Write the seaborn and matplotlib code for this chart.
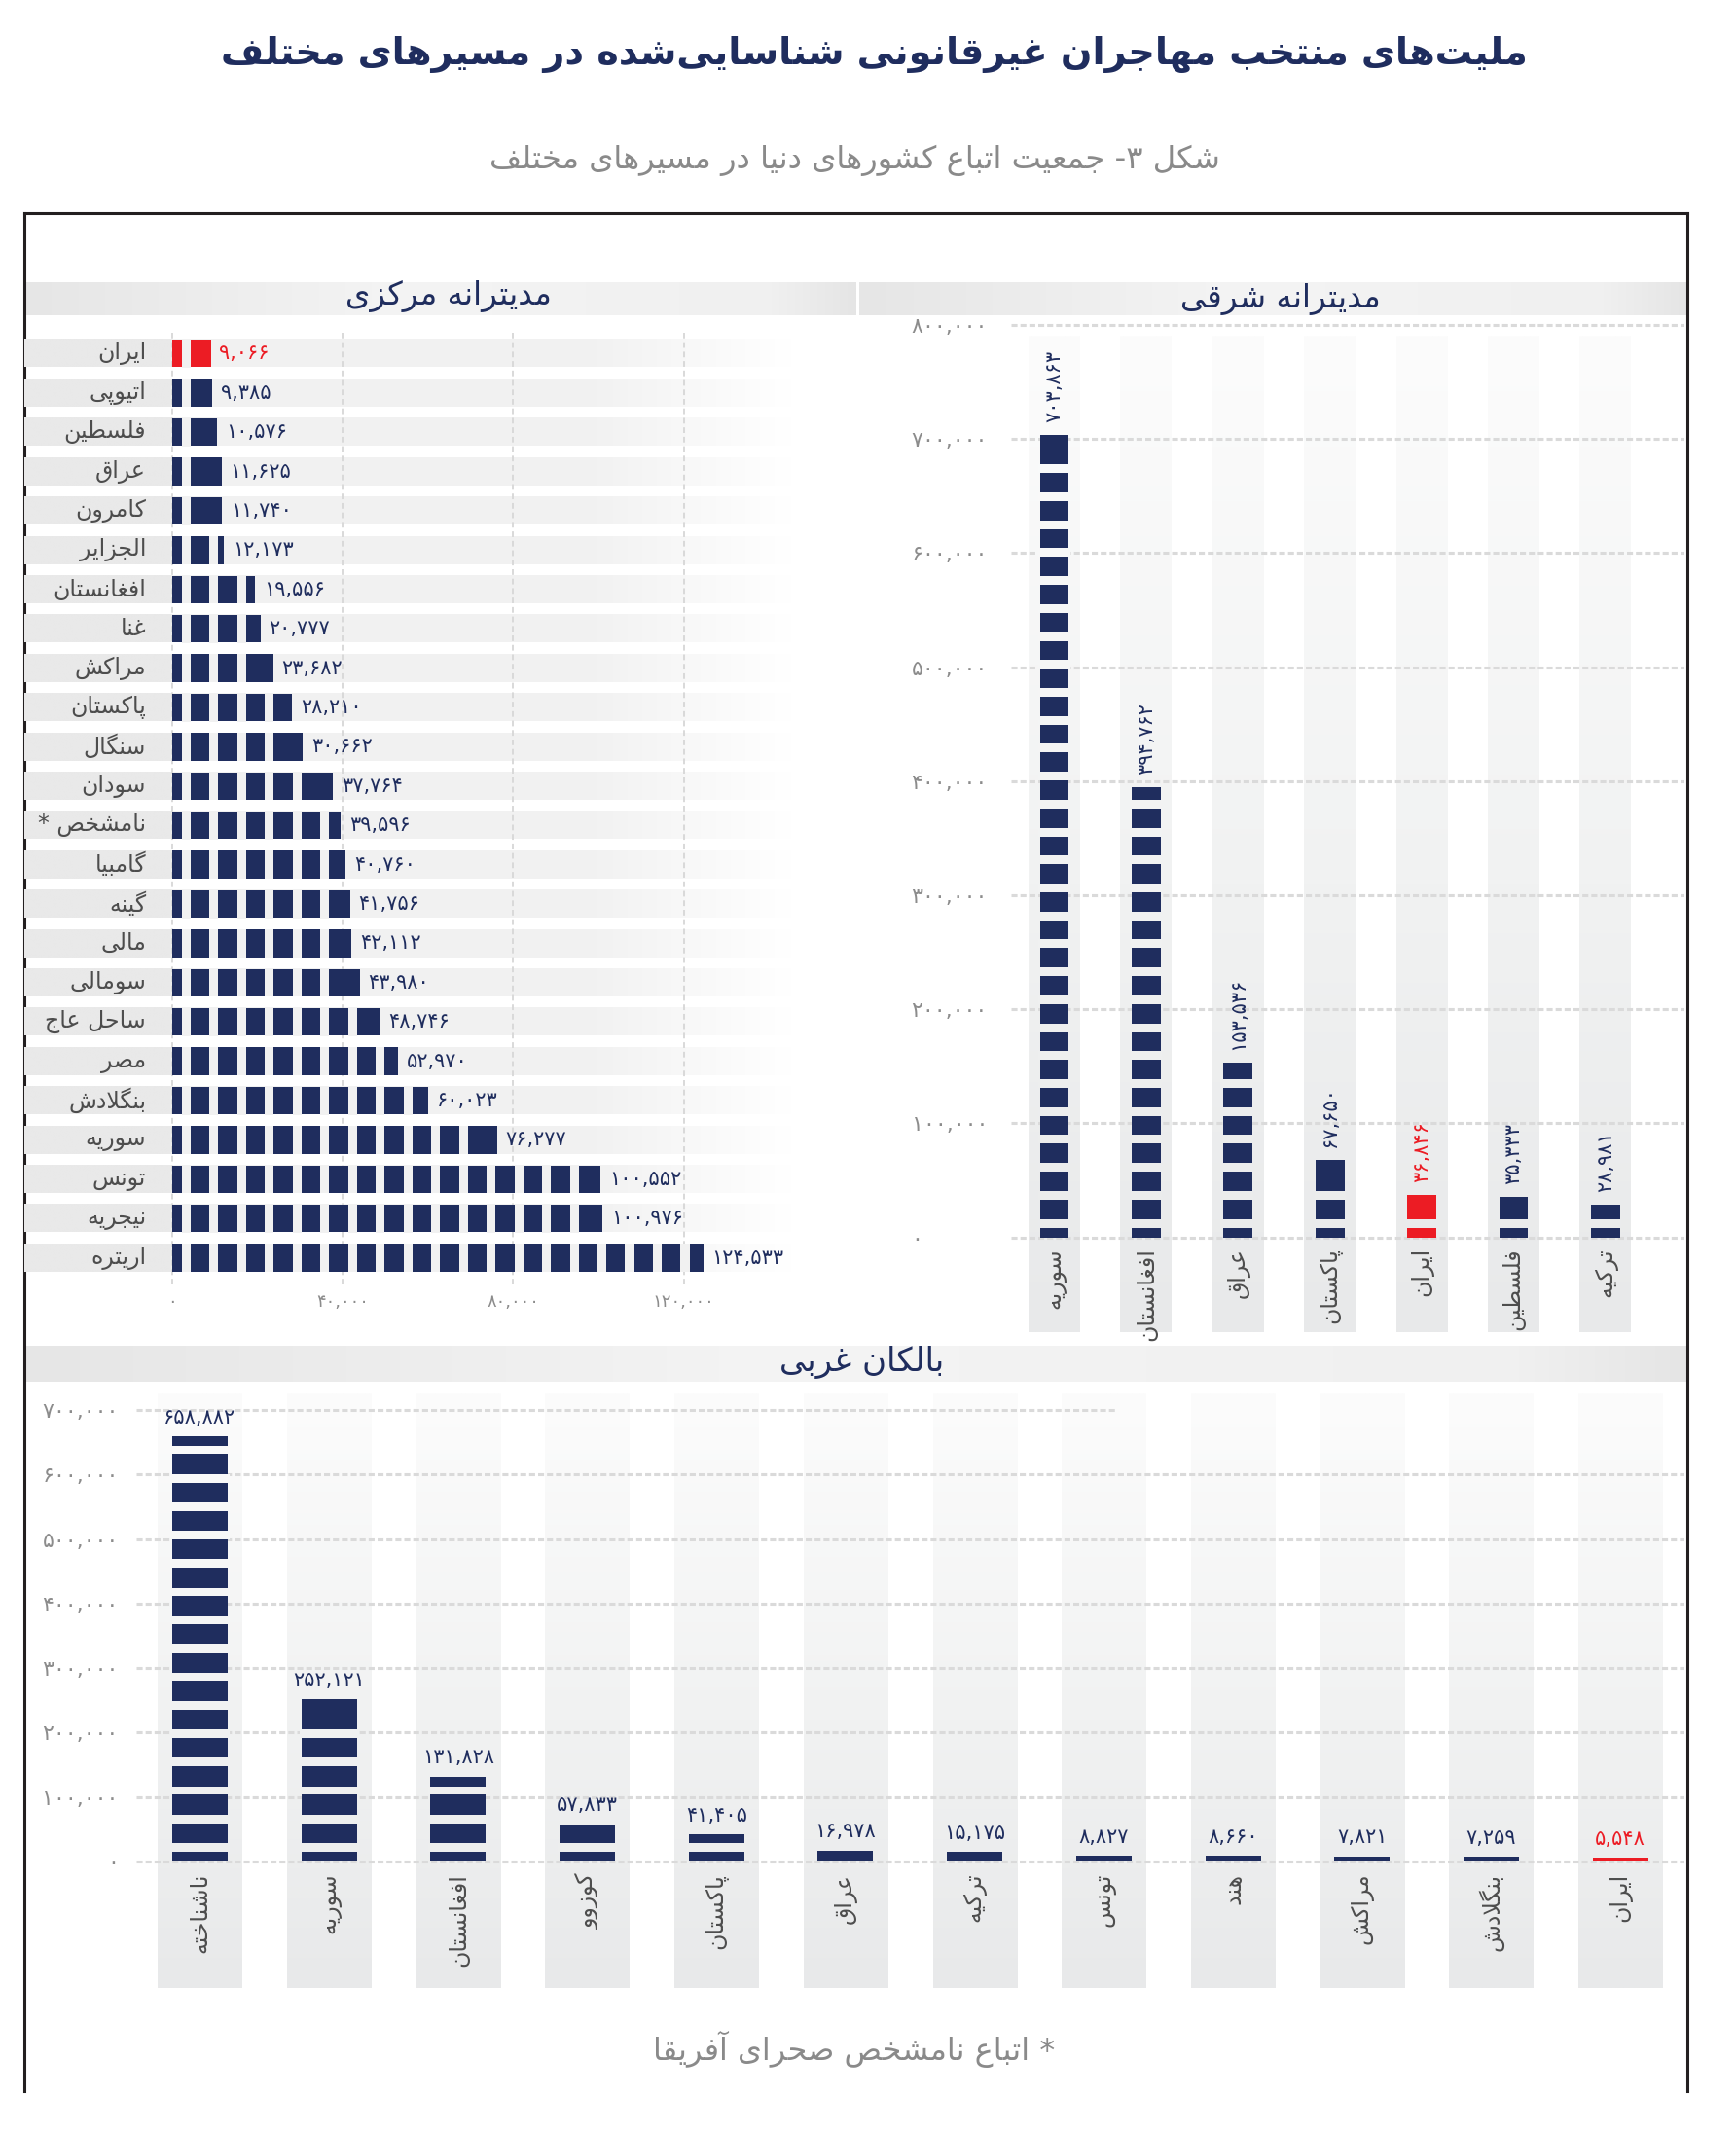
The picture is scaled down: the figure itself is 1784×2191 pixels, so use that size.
import re
import numpy as np
import pandas as pd
import matplotlib.pyplot as plt
from matplotlib.colors import to_rgb
import seaborn as sns

# ---- data ----
cm_countries = ['ایران', 'اتیوپی', 'فلسطین', 'عراق', 'کامرون', 'الجزایر', 'افغانستان', 'غنا',
                'مراکش', 'پاکستان', 'سنگال', 'سودان', 'نامشخص *', 'گامبیا', 'گینه', 'مالی',
                'سومالی', 'ساحل عاج', 'مصر', 'بنگلادش', 'سوریه', 'تونس', 'نیجریه', 'اریتره']
cm_values = [9066, 9385, 10576, 11625, 11740, 12173, 19556, 20777,
             23682, 28210, 30662, 37764, 39596, 40760, 41756, 42112,
             43980, 48746, 52970, 60023, 76277, 100552, 100976, 124533]

em_countries = ['سوریه', 'افغانستان', 'عراق', 'پاکستان', 'ایران', 'فلسطین', 'ترکیه']
em_values = [703863, 394762, 153536, 67650, 36846, 35333, 28981]

wb_countries = ['ناشناخته', 'سوریه', 'افغانستان', 'کوزوو', 'پاکستان', 'عراق',
                'ترکیه', 'تونس', 'هند', 'مراکش', 'بنگلادش', 'ایران']
wb_values = [658882, 252121, 131828, 57833, 41405, 16978, 15175, 8827, 8660, 7821, 7259, 5548]

cm_ticks = [0, 40000, 80000, 120000]
em_ticks = list(range(0, 800001, 100000))
wb_ticks = list(range(0, 700001, 100000))

title = 'ملیت\u200cهای منتخب مهاجران غیرقانونی شناسایی\u200cشده در مسیرهای مختلف'
subtitle = 'شکل ۳- جمعیت اتباع کشورهای دنیا در مسیرهای مختلف'
footnote = '* اتباع نامشخص صحرای آفریقا'
highlight = 'ایران'

NAVY = '#1f2d5e'
RED = '#ec1c24'
LABEL = '#4d4d4d'
TICK = '#8c8c8c'
GRID = '#d9d9d9'

# ---- minimal persian shaping (no reshaper lib available) ----
FORMS = {
    'آ': (0xFE81, 2), 'ا': (0xFE8D, 2), 'ب': (0xFE8F, 4), 'ت': (0xFE95, 4), 'ث': (0xFE99, 4),
    'ج': (0xFE9D, 4), 'ح': (0xFEA1, 4), 'خ': (0xFEA5, 4), 'د': (0xFEA9, 2), 'ذ': (0xFEAB, 2),
    'ر': (0xFEAD, 2), 'ز': (0xFEAF, 2), 'س': (0xFEB1, 4), 'ش': (0xFEB5, 4), 'ص': (0xFEB9, 4),
    'ض': (0xFEBD, 4), 'ط': (0xFEC1, 4), 'ظ': (0xFEC5, 4), 'ع': (0xFEC9, 4), 'غ': (0xFECD, 4),
    'ف': (0xFED1, 4), 'ق': (0xFED5, 4), 'ل': (0xFEDD, 4), 'م': (0xFEE1, 4), 'ن': (0xFEE5, 4),
    'ه': (0xFEE9, 4), 'و': (0xFEED, 2), 'پ': (0xFB56, 4), 'چ': (0xFB7A, 4), 'ژ': (0xFB8A, 2),
    'ک': (0xFB8E, 4), 'گ': (0xFB92, 4), 'ی': (0xFBFC, 4),
}
LAM_ALEF = {'ا': (0xFEFB, 0xFEFC), 'آ': (0xFEF5, 0xFEF6)}


def fa(text):
    out = []
    i, n = 0, len(text)
    while i < n:
        c = text[i]
        if c not in FORMS:
            if c != '\u200c':
                out.append(c)
            i += 1
            continue
        prev = text[i - 1] if i else ''
        nxt = text[i + 1] if i + 1 < n else ''
        link_prev = prev in FORMS and FORMS[prev][1] == 4
        if c == 'ل' and nxt in LAM_ALEF:
            out.append(chr(LAM_ALEF[nxt][1 if link_prev else 0]))
            i += 2
            continue
        base, cnt = FORMS[c]
        link_next = cnt == 4 and nxt in FORMS
        if link_prev and link_next:
            form = 3
        elif link_prev:
            form = 1
        elif link_next:
            form = 2
        else:
            form = 0
        out.append(chr(base + form))
        i += 1
    tokens = re.findall(r'[0-9۰-۹]+(?:[,.][0-9۰-۹]+)*|.', ''.join(out))
    return ''.join(reversed(tokens))


DIG = str.maketrans('0123456789', '۰۱۲۳۴۵۶۷۸۹')


def num(v):
    return f'{v:,}'.translate(DIG)


def ramp(stops, n=400):
    t = np.linspace(0, 1, n)
    pos = [p for p, _ in stops]
    cols = np.array([to_rgb(c) for _, c in stops])
    return np.stack([np.interp(t, pos, cols[:, k]) for k in range(3)], axis=-1)


def gap_starts(value, period, first=0.35, width=0.31):
    # cuts that split a bar into blocks; skip a cut that would leave a sliver on top
    starts = []
    s = first * period
    while s + width * period + 0.2 * period < value:
        starts.append(s)
        s += period
    return starts


sns.set_theme(style='white')
plt.rcParams['font.family'] = ['DejaVu Sans']

fig = plt.figure(figsize=(17.84, 21.91), dpi=100)
SW, SH = 1277, 1568


def box(x0, y0, x1, y1):
    return [x0 / SW, 1 - y1 / SH, (x1 - x0) / SW, (y1 - y0) / SH]


# background layer: title, frame, section headers
bg = fig.add_axes([0, 0, 1, 1])
bg.set_xlim(0, SW)
bg.set_ylim(SH, 0)
bg.axis('off')

head_ramp = ramp([(0, '#e6e6e6'), (0.45, '#f4f4f4'), (0.9, '#f0f0f0'), (1, '#e5e5e5')])[None, :, :]
for x0, x1, y0, y1 in [(18, 630, 208, 232), (632, 1241, 208, 232), (18, 1241, 990, 1016)]:
    bg.imshow(head_ramp, extent=[x0, x1, y1, y0], aspect='auto', interpolation='bilinear')
bg.set_xlim(0, SW)
bg.set_ylim(SH, 0)

for xs, ys in [([18, 18], [1538, 157]), ([18, 1241], [157, 157]), ([1241, 1241], [157, 1538])]:
    bg.plot(xs, ys, color='#231f20', lw=2.2, solid_capstyle='projecting')

texts = [
    (bg.text(643, 40, fa(title), ha='center', va='center', fontsize=30, fontweight='bold', color=NAVY), 1340),
    (bg.text(629, 118, fa(subtitle), ha='center', va='center', fontsize=20, color='#8a8a8a'), 750),
    (bg.text(330, 218, fa('مدیترانه مرکزی'), ha='center', va='center', fontsize=20, color=NAVY), 212),
    (bg.text(942, 220, fa('مدیترانه شرقی'), ha='center', va='center', fontsize=20, color=NAVY), 205),
    (bg.text(634, 1002, fa('بالکان غربی'), ha='center', va='center', fontsize=20, color=NAVY), 169),
    (bg.text(628, 1507, fa(footnote), ha='center', va='center', fontsize=18, color='#8a8a8a'), 412),
]
renderer = fig.canvas.get_renderer()
for t, target in texts:
    w = t.get_window_extent(renderer).width
    t.set_fontsize(t.get_fontsize() * target / w)

# ---- central mediterranean: horizontal bars ----
ax1 = fig.add_axes(box(18, 245, 630, 945), facecolor='none')
x_lo, x_hi = -34600, 160500
n1 = len(cm_countries)


def tx(v):
    return (v - x_lo) / (x_hi - x_lo)


row_band = ramp([(0, '#e9e9e9'), (tx(0) - 0.002, '#e9e9e9'), (tx(0), '#f1f1f1'),
                 (tx(100000), '#f2f2f2'), (tx(145000), '#ffffff'), (1, '#ffffff')])[None, :, :]
for i in range(n1):
    ax1.imshow(row_band, extent=[x_lo, x_hi, i + 0.35, i - 0.35], aspect='auto', zorder=0,
               interpolation='bilinear')

df1 = pd.DataFrame({'country': cm_countries, 'value': cm_values})
pal1 = {c: (RED if c == highlight else NAVY) for c in cm_countries}
sns.barplot(data=df1, x='value', y='country', hue='country', palette=pal1, orient='h',
            width=0.7, saturation=1, linewidth=0, errorbar=None, legend=False, ax=ax1)

for i, (c, v) in enumerate(zip(cm_countries, cm_values)):
    for s in gap_starts(v, 6500, width=0.32):
        ax1.barh(i, 0.32 * 6500, left=s, height=0.72, color='#f1f1f1', linewidth=0, zorder=3)
    ax1.text(v + 2000, i, num(v), ha='left', va='center', fontsize=15,
             color=RED if c == highlight else NAVY)
    ax1.text(-6100, i, fa(c), ha='right', va='center', fontsize=17, color=LABEL)

ax1.set_xlim(x_lo, x_hi)
ax1.set_ylim(23.69, -0.52)
ax1.set_xticks(cm_ticks)
ax1.set_xticklabels([num(v) for v in cm_ticks])
ax1.set_yticks([])
ax1.tick_params(axis='x', length=0, pad=6, labelsize=13, labelcolor=TICK)
ax1.grid(axis='x', color=GRID, linestyle=(0, (3, 2)), linewidth=1.4)
ax1.set_axisbelow(True)
ax1.set_xlabel('')
ax1.set_ylabel('')
sns.despine(ax=ax1, left=True, bottom=True)

# ---- eastern mediterranean: vertical bars ----
ax2 = fig.add_axes(box(744, 236, 1239, 980), facecolor='none')
u2 = 800000 / (910 - 239)
y_lo2, y_hi2 = -(980 - 910) * u2, 800000 + 3 * u2
col_top2 = 790000
col_stops = [(0, '#fcfcfc'), (0.55, '#f1f2f2'), (1, '#e8e9ea')]
col_ramp = ramp(col_stops)[:, None, :]


def col_color(y, top, bottom):
    t = np.clip((top - y) / (top - bottom), 0, 1)
    return col_ramp[int(t * (len(col_ramp) - 1)), 0]


n2 = len(em_countries)
for i in range(n2):
    ax2.imshow(col_ramp, extent=[i - 0.28, i + 0.28, y_lo2, col_top2], aspect='auto', zorder=0,
               interpolation='bilinear')

df2 = pd.DataFrame({'country': em_countries, 'value': em_values})
pal2 = {c: (RED if c == highlight else NAVY) for c in em_countries}
sns.barplot(data=df2, x='country', y='value', hue='country', palette=pal2,
            width=0.316, saturation=1, linewidth=0, errorbar=None, legend=False, ax=ax2)

for i, (c, v) in enumerate(zip(em_countries, em_values)):
    for s in gap_starts(v, 24500):
        ax2.bar(i, 0.31 * 24500, bottom=s, width=0.34, linewidth=0, zorder=3,
                color=col_color(s, col_top2, y_lo2))
    ax2.text(i, v + 11000, num(v), rotation=90, ha='center', va='bottom', fontsize=15,
             color=RED if c == highlight else NAVY)
    ax2.text(i, -9000, fa(c), rotation=90, ha='center', va='top', fontsize=17, color=LABEL)

ax2.set_xlim(-0.467, 6.858)
ax2.set_ylim(y_lo2, y_hi2)
ax2.set_yticks(em_ticks)
ax2.set_yticklabels([num(v) for v in em_ticks])
ax2.tick_params(axis='y', length=0, pad=74, labelsize=16, labelcolor=TICK)
for lab in ax2.get_yticklabels():
    lab.set_ha('left')
ax2.tick_params(axis='x', length=0, labelbottom=False)
ax2.grid(axis='y', color='#dadada', linestyle=(0, (2, 1)), linewidth=2.2)
ax2.set_axisbelow(True)
ax2.set_xlabel('')
ax2.set_ylabel('')
sns.despine(ax=ax2, left=True, bottom=True)

# ---- western balkans: vertical bars ----
ax3 = fig.add_axes(box(100, 1020, 1239, 1462), facecolor='none')
u3 = 700000 / (1369 - 1037)
y_lo3, y_hi3 = -(1462 - 1369) * u3, 700000 + 17 * u3
col_top3 = 725000
x_lo3, x_hi3 = -0.495, 11.495
n3 = len(wb_countries)
for i in range(n3):
    ax3.imshow(col_ramp, extent=[i - 0.325, i + 0.325, y_lo3, col_top3], aspect='auto', zorder=0,
               interpolation='bilinear', clip_on=False)

ax3.hlines(wb_ticks[:-1], x_lo3, x_hi3, color='#dadada', linestyle=(0, (2, 1)), linewidth=2.2, zorder=0.5)
ax3.hlines(wb_ticks[-1], x_lo3, (820 - 147) / 95, color='#dadada', linestyle=(0, (2, 1)),
           linewidth=2.2, zorder=0.5)

df3 = pd.DataFrame({'country': wb_countries, 'value': wb_values})
pal3 = {c: (RED if c == highlight else NAVY) for c in wb_countries}
sns.barplot(data=df3, x='country', y='value', hue='country', palette=pal3,
            width=0.43, saturation=1, linewidth=0, errorbar=None, legend=False, ax=ax3)

for i, (c, v) in enumerate(zip(wb_countries, wb_values)):
    for s in gap_starts(v, 44000, width=0.3):
        ax3.bar(i, 0.3 * 44000, bottom=s, width=0.46, linewidth=0, zorder=3,
                color=col_color(s, col_top3, y_lo3))
    ax3.text(i, v + 14000, num(v), ha='center', va='bottom', fontsize=15,
             color=RED if c == highlight else NAVY)
    ax3.text(i, -18000, fa(c), rotation=90, ha='center', va='top', fontsize=17, color=LABEL)

ax3.set_xlim(x_lo3, x_hi3)
ax3.set_ylim(y_lo3, y_hi3)
ax3.set_yticks(wb_ticks)
ax3.set_yticklabels([num(v) for v in wb_ticks])
ax3.tick_params(axis='y', length=0, pad=13, labelsize=16, labelcolor=TICK)
ax3.tick_params(axis='x', length=0, labelbottom=False)
ax3.set_xlabel('')
ax3.set_ylabel('')
sns.despine(ax=ax3, left=True, bottom=True)

fig.savefig('out.png', dpi=100, facecolor='white')
